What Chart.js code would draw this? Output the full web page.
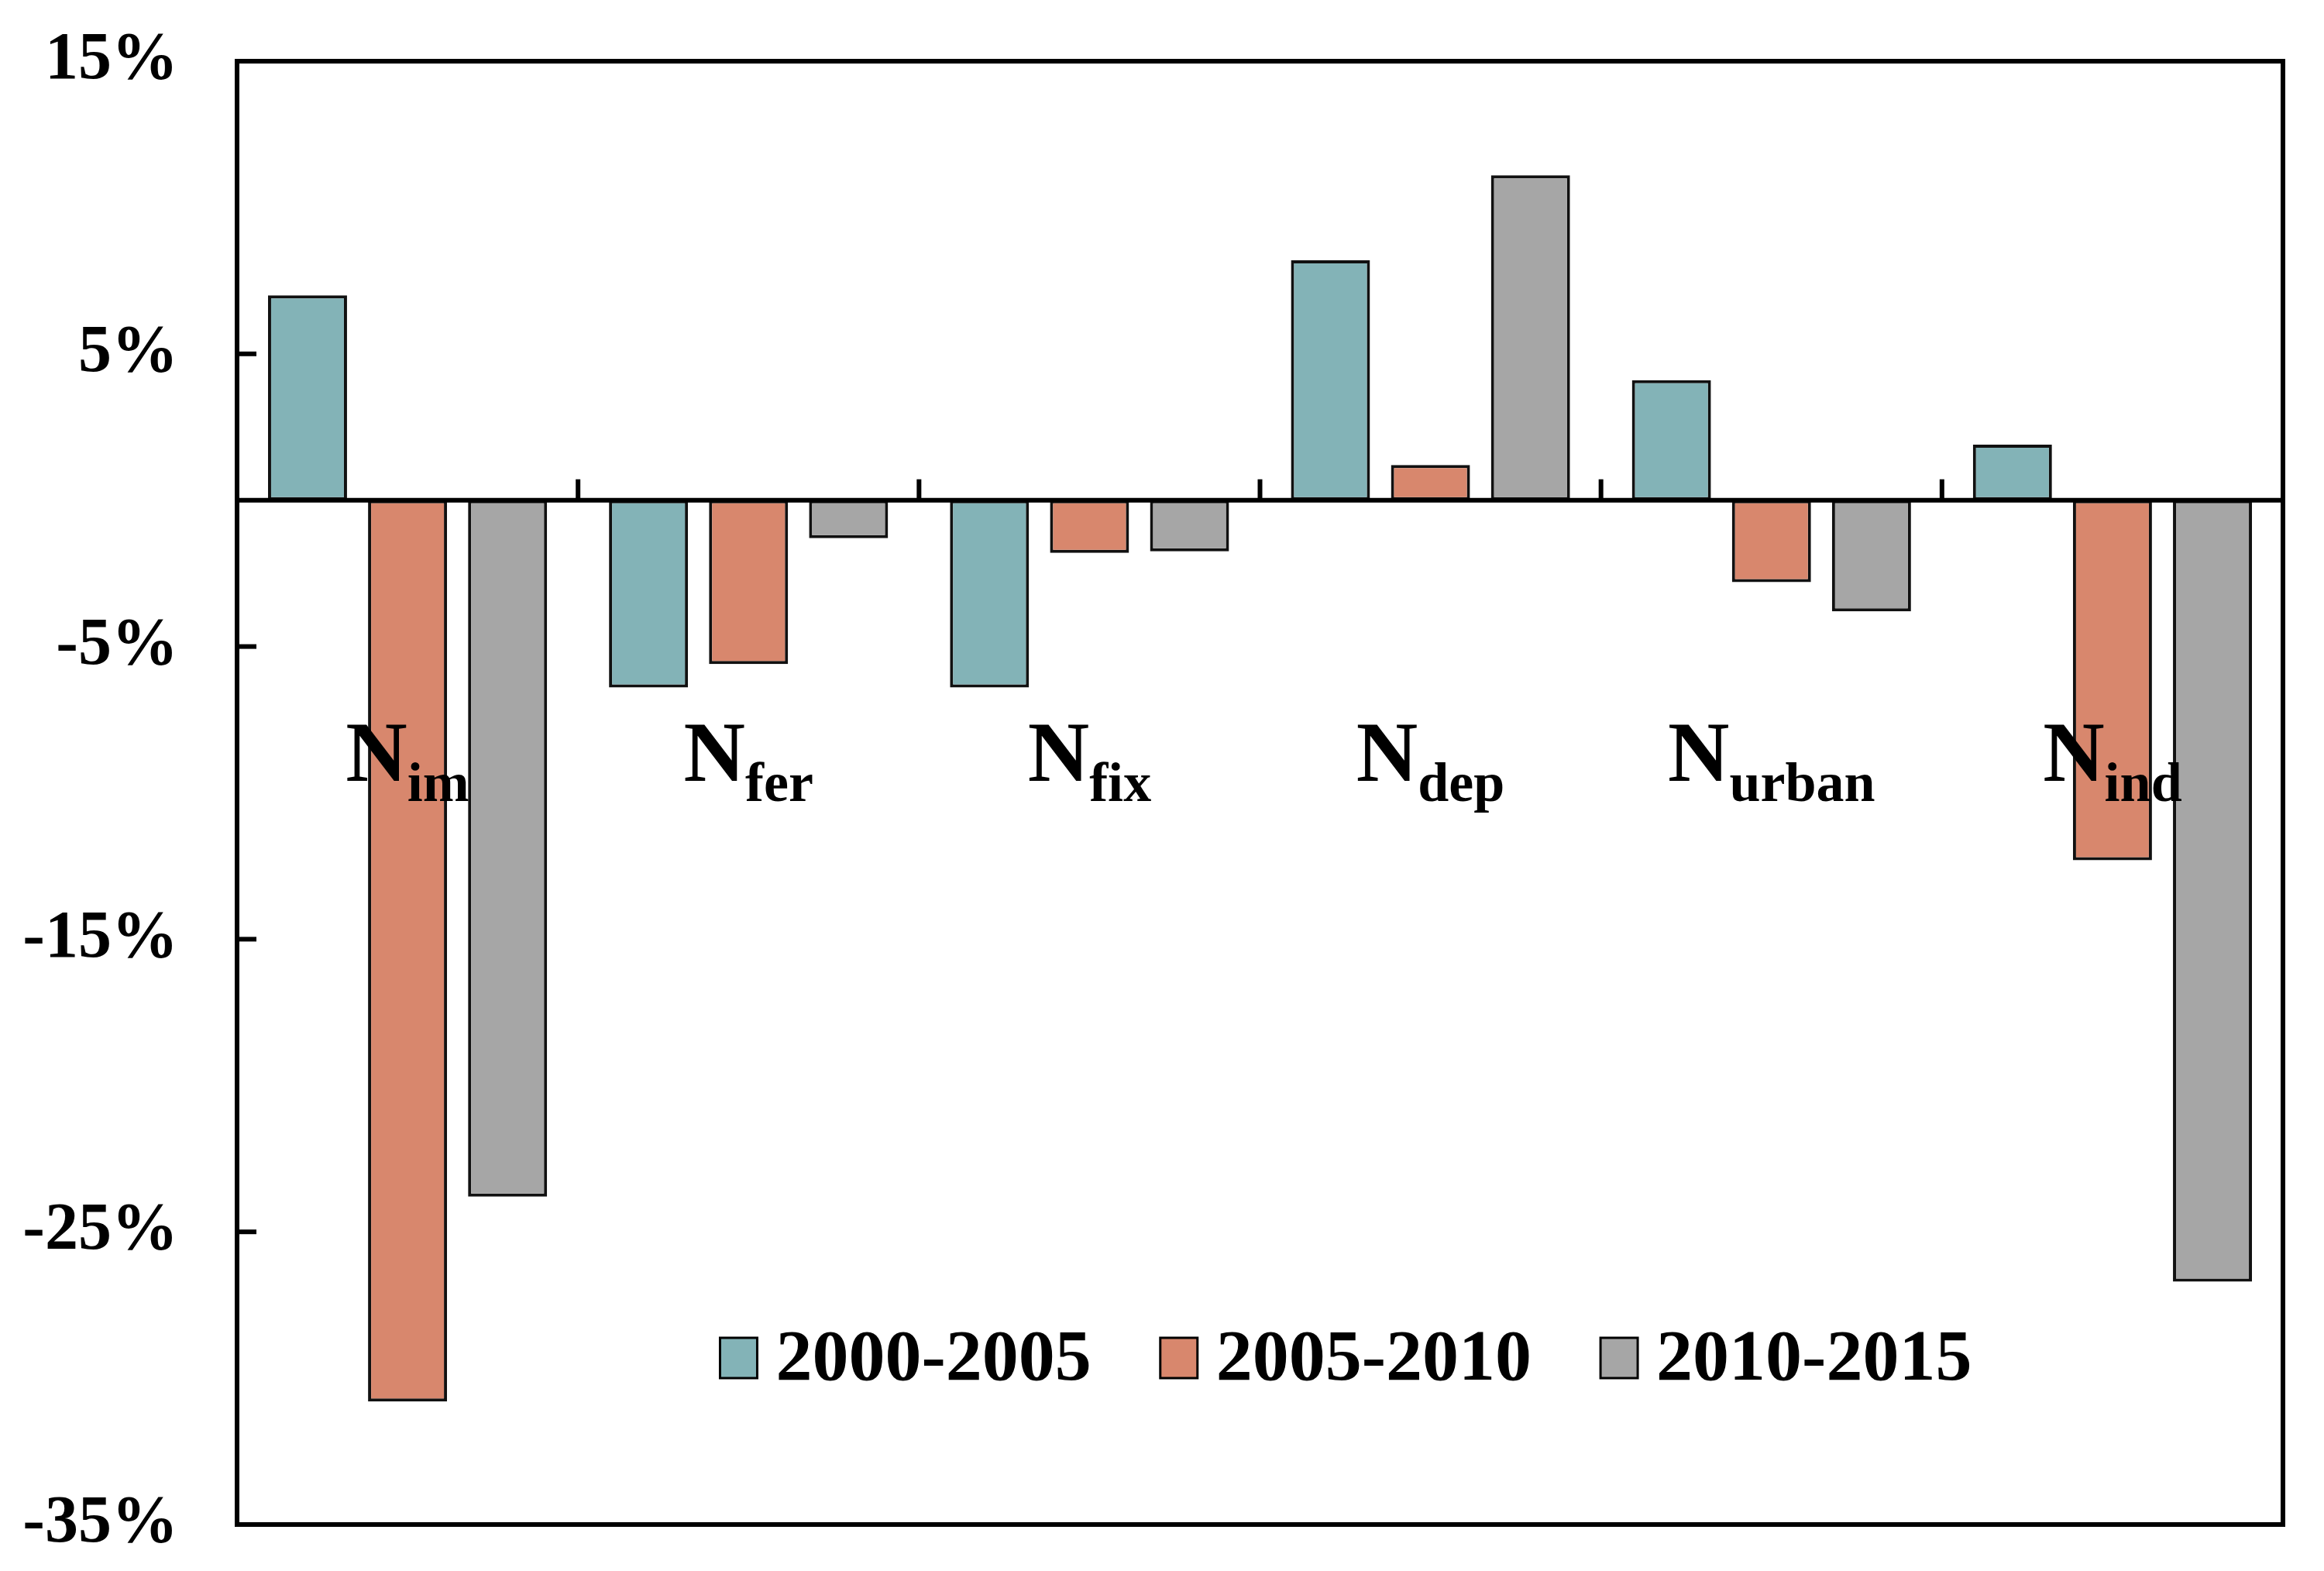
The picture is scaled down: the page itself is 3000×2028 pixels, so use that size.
<!DOCTYPE html>
<html>
<head>
<meta charset="utf-8">
<script src="https://cdn.jsdelivr.net/npm/chart.js@4.4.1/dist/chart.umd.min.js"></script>
<style>
  html, body { margin: 0; padding: 0; background: #fff; }
  #wrap { width: 3000px; height: 2028px; }
</style>
</head>
<body>
<div id="wrap"><canvas id="myChart"></canvas></div>
<script>
// data (percent change)
const categorySubs = ["im", "fer", "fix", "dep", "urban", "ind"];
const seriesNames = ["2000-2005", "2005-2010", "2010-2015"];
const vals2000_2005 = [7.0, -6.4, -6.4, 8.2, 4.1, 1.9];
const vals2005_2010 = [-30.8, -5.6, -1.8, 1.2, -2.8, -12.3];
const vals2010_2015 = [-23.8, -1.3, -1.75, 11.1, -3.8, -26.7];
const yTickValues = [15, 5, -5, -15, -25, -35];

const colors = ["#83B3B7", "#D8876D", "#A6A6A6"];
const serif = "'Liberation Serif', 'Times New Roman', serif";

const framePlugin = {
  id: "framePlugin",
  afterDatasetsDraw(chart) {
    const { ctx, chartArea, scales } = chart;
    const x = scales.x, y = scales.y;
    const zeroY = y.getPixelForValue(0);
    ctx.save();
    ctx.strokeStyle = "#000";
    ctx.lineWidth = 6;
    ctx.lineCap = "butt";

    // zero line
    ctx.beginPath();
    ctx.moveTo(chartArea.left, zeroY);
    ctx.lineTo(chartArea.right, zeroY);
    ctx.stroke();

    // category ticks pointing up from zero line
    for (let i = 0; i < categorySubs.length - 1; i++) {
      const px = (x.getPixelForValue(i) + x.getPixelForValue(i + 1)) / 2;
      ctx.beginPath();
      ctx.moveTo(px, zeroY);
      ctx.lineTo(px, zeroY - 27);
      ctx.stroke();
    }

    // inner y ticks
    yTickValues.forEach(v => {
      if (v === y.min || v === y.max) return;
      const py = y.getPixelForValue(v);
      ctx.beginPath();
      ctx.moveTo(chartArea.left, py);
      ctx.lineTo(chartArea.left + 25, py);
      ctx.stroke();
    });

    // frame
    ctx.strokeRect(chartArea.left, chartArea.top,
      chartArea.right - chartArea.left, chartArea.bottom - chartArea.top);

    // category labels N with subscript
    ctx.fillStyle = "#000";
    ctx.textBaseline = "alphabetic";
    ctx.textAlign = "left";
    const mainFont = "bold 110px " + serif;
    const subFont = "bold 72px " + serif;
    const baseY = y.getPixelForValue(-9.6);
    categorySubs.forEach((s, i) => {
      ctx.font = mainFont;
      const wN = ctx.measureText("N").width;
      ctx.font = subFont;
      const wS = ctx.measureText(s).width;
      const cx = x.getPixelForValue(i);
      const start = cx - (wN + wS) / 2;
      ctx.font = mainFont;
      ctx.fillText("N", start, baseY);
      ctx.font = subFont;
      ctx.fillText(s, start + wN, baseY + 26);
    });

    // legend inside plot
    ctx.font = "bold 94px " + serif;
    const boxW = 48, boxH = 52, gapBox = 24, gapItem = 89;
    const widths = seriesNames.map(n => ctx.measureText(n).width);
    let total = 0;
    widths.forEach((w, i) => { total += boxW + gapBox + w + (i < widths.length - 1 ? gapItem : 0); });
    const centerX = chartArea.left + 0.542 * (chartArea.right - chartArea.left);
    const legBase = y.getPixelForValue(-30.05);
    let lx = centerX - total / 2;
    seriesNames.forEach((n, i) => {
      ctx.fillStyle = colors[i];
      ctx.fillRect(lx, legBase - boxH - 2, boxW, boxH);
      ctx.lineWidth = 3;
      ctx.strokeStyle = "#000";
      ctx.strokeRect(lx, legBase - boxH - 2, boxW, boxH);
      ctx.fillStyle = "#000";
      ctx.fillText(n, lx + boxW + gapBox, legBase);
      lx += boxW + gapBox + widths[i] + gapItem;
    });
    ctx.restore();
  }
};

const ctx = document.getElementById("myChart").getContext("2d");
const myChart = new Chart(ctx, {
  type: "bar",
  data: {
    labels: categorySubs.map(s => "N" + s),
    datasets: [
      { label: seriesNames[0], data: vals2000_2005, backgroundColor: colors[0] },
      { label: seriesNames[1], data: vals2005_2010, backgroundColor: colors[1] },
      { label: seriesNames[2], data: vals2010_2015, backgroundColor: colors[2] },
    ].map(d => Object.assign(d, {
      borderColor: "#111",
      borderWidth: 4,
      borderSkipped: false,
      categoryPercentage: 0.88,
      barPercentage: 0.79,
    })),
  },
  options: {
    responsive: true,
    maintainAspectRatio: false,
    devicePixelRatio: 1,
    animation: false,
    layout: { padding: { left: 0, top: 79, right: 53, bottom: 60 } },
    scales: {
      x: {
        display: false,
      },
      y: {
        min: -35,
        max: 15,
        afterFit: (scale) => {
          scale.width = 306;
          scale.paddingTop = 0;
          scale.paddingBottom = 0;
        },
        afterBuildTicks: (scale) => { scale.ticks = yTickValues.map(v => ({ value: v })); },
        grid: { display: false, drawTicks: false },
        border: { display: false },
        ticks: {
          padding: 76,
          color: "#000",
          font: { family: serif, size: 86, weight: "bold" },
          callback: (v) => v + "%",
        },
      },
    },
    plugins: {
      legend: { display: false },
      tooltip: { enabled: false },
    },
  },
  plugins: [framePlugin],
});
</script>
</body>
</html>
